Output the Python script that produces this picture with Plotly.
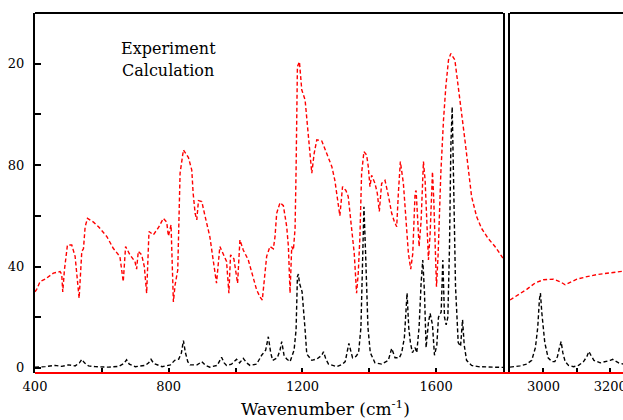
import plotly.graph_objects as go

# ---- data ----
exp_wn = [400, 405, 415, 430, 455, 475, 480, 483, 488, 497, 510, 520, 532, 540, 545, 550, 557, 575, 590, 615,
          634, 654, 664, 671, 684, 699, 704, 709, 719, 727, 734, 741, 754, 770, 784, 794, 799, 807, 814, 819,
          827, 831, 834, 844, 859, 869, 873, 879, 884, 889, 899, 909, 923, 933, 943, 953, 963, 973, 980, 985,
          995, 1000, 1006, 1013, 1023, 1038, 1053, 1063, 1073, 1080, 1088, 1093, 1103, 1113, 1118, 1123, 1133,
          1143, 1153, 1158, 1163, 1168, 1173, 1178, 1181, 1185, 1191, 1198, 1208, 1213, 1221, 1228, 1235, 1243,
          1258, 1273, 1288, 1297, 1307, 1312, 1320, 1330, 1337, 1347, 1355, 1362, 1367, 1372, 1377, 1384, 1392,
          1397, 1402, 1407, 1417, 1424, 1430, 1437, 1447, 1457, 1467, 1475, 1482, 1487, 1493, 1502, 1509, 1517,
          1524, 1530, 1537, 1540, 1545, 1549, 1555, 1562, 1567, 1572, 1577, 1582, 1589, 1593, 1597, 1601, 1606,
          1614, 1622, 1629, 1637, 1644, 1656, 1666, 1676, 1686, 1696, 1706, 1721, 1736, 1756, 1776, 1800]
exp_val = [30, 31, 34, 35, 37.4, 38, 37, 30, 38.6, 48.5, 48.5, 44, 27.5, 46, 47, 55.7, 59, 57.5, 55.7, 51.8,
           47.2, 43.9, 34, 47.9, 44.6, 42, 39, 46, 44.6, 40, 29.5, 53.8, 52.5, 55.5, 59, 57.5, 52, 56.4, 26, 32.7,
           38.6, 55.7, 76.8, 86, 83, 78, 69, 61, 58.4, 66, 65.6, 59.7, 51.8, 42.6, 33.4, 47.9, 45, 42, 29.5, 44.6,
           43, 39, 33.4, 50.5, 46.5, 42.6, 36, 30.8, 28, 26.8, 37.4, 44, 47.9, 47, 51.8, 61, 65.2,
           64, 55.7, 47.9, 29.5, 47.9, 46.5, 55, 78, 118.8, 120.8, 109.7, 105.7, 98, 87.3, 76.8, 84.5, 90,
           89.5, 84.7, 79.4, 74, 65, 60, 71.5, 70, 67.6, 55.7, 45.2, 29.5, 37.4, 51.8, 76.8, 85.3, 84,
           79.4, 71.5, 76, 72.8, 68.9, 61.7, 72.8, 74, 68, 61, 57.7, 55.7, 69, 81.4, 72.8, 58.4, 45.2,
           39, 45, 69, 70, 58, 47.9, 58, 81.4, 74, 55.7, 42.6, 53, 77.4, 66, 48, 32, 45,
           76.8, 97.8, 111, 121.5, 124, 121.5, 112, 100.5, 90, 78, 67.6, 59.7, 55, 51, 47.9, 43.3]

calc_wn = [400, 430, 460, 480, 500, 520, 533, 540, 548, 560, 580, 620, 650, 666, 674, 682, 700, 730, 740, 747,
           755, 780, 805, 818, 830, 838, 844, 850, 857, 864, 885, 899, 910, 923, 945, 958, 966, 973, 988, 1003,
           1012, 1023, 1033, 1043, 1063, 1078, 1090, 1098, 1105, 1111, 1125, 1133, 1138, 1145, 1153, 1163, 1175,
           1181, 1185, 1188, 1191, 1199, 1208, 1213, 1228, 1243, 1258, 1263, 1270, 1278, 1303, 1320, 1328, 1335,
           1339, 1344, 1350, 1360, 1368, 1375, 1379, 1384, 1389, 1396, 1403, 1417, 1437, 1457, 1467, 1477, 1490,
           1497, 1505, 1509, 1513, 1518, 1523, 1529, 1537, 1542, 1549, 1555, 1560, 1565, 1570, 1577, 1582, 1589,
           1595, 1602, 1607, 1615, 1620, 1625, 1630, 1635, 1640, 1644, 1648, 1653, 1658, 1666, 1673, 1679, 1684,
           1691, 1706, 1726, 1766, 1800]
calc_val = [0.3, 0.5, 1, 0.6, 1.2, 0.8, 2, 3.4, 2, 0.8, 0.5, 0.3, 0.6, 1.8, 3.2, 1.5, 0.5, 1, 2, 3.4,
            1.8, 0.5, 1.2, 3, 3.5, 6, 10.8, 6, 2.5, 1.2, 1.2, 2.5, 1, 0.3, 1, 4.2, 2, 1, 1.5, 3.4,
            2, 3.8, 2, 1, 1.5, 5, 7, 12.3, 6, 3, 4, 7, 10.4, 5, 3.5, 2.5, 7,
            15, 36, 37, 33.5, 30, 15, 5.5, 3, 3.5, 5, 6.4, 3.5, 1.5, 0.5, 1.5, 2.5, 7,
            9.7, 7, 4, 4.5, 6, 16, 38.7, 63.6, 45, 16, 6, 2, 1.5, 3, 7.7, 4, 4,
            6, 12, 21.5, 29.5, 16, 10, 6, 8, 6, 16, 33.4, 42.6, 30, 8, 18, 21.5, 17,
            5, 9, 20, 22, 42.6, 20, 17, 20, 48, 87.3, 103, 68, 32, 10, 8.5, 19, 9,
            3, 1, 0.5, 0.3, 0.2]

exp_r_wn = [2900, 2925, 2950, 2975, 3000, 3030, 3050, 3065, 3080, 3100, 3130, 3160, 3200, 3240]
exp_r_val = [26.8, 28.8, 31, 33.5, 34.8, 35, 34, 32.8, 33.8, 35, 36, 36.8, 37.5, 38.2]

calc_r_wn = [2900, 2930, 2950, 2965, 2976, 2983, 2988, 2991, 2995, 3004, 3014, 3025, 3034, 3042, 3048, 3053,
             3058, 3065, 3075, 3090, 3105, 3120, 3130, 3136, 3142, 3151, 3170, 3190, 3200, 3207, 3215, 3225, 3240]
calc_r_val = [0.3, 0.8, 1.5, 3, 8, 16, 27, 29.5, 22, 10, 4, 2.5, 2.5, 4.5, 8, 10.4,
              6, 2.5, 1, 0.5, 1, 2.5, 4.5, 6.5, 5, 3, 2, 2.5, 3, 3.4, 2.8, 2, 1.5]

y_tickvals = [0, 20, 40, 60, 80, 100, 120, 140]
y_ticktext = ["0", "", "40", "", "80", "", "20", ""]
x1_tickvals = [400, 600, 800, 1000, 1200, 1400, 1600, 1800]
x1_ticktext = ["400", "", "800", "", "1200", "", "1600", ""]
x2_tickvals = [3000, 3100, 3200]
x2_ticktext = ["3000", "", "3200"]

legend_labels = ["Experiment", "Calculation"]
x_title = "Wavenumber (cm<sup>-1</sup>)"

# ---- layout geometry ----
W, H = 623, 420
L1, R1 = 35 / W, 503 / W
L2 = 510 / W
FONT = "DejaVu Serif"

fig = go.Figure()
dash_red = "4px,2.5px"
dash_blk = "4px,2.5px"
fig.add_trace(go.Scatter(x=exp_wn, y=exp_val, mode="lines", name=legend_labels[0],
                         line=dict(color="#ff0000", width=1.4, dash=dash_red), xaxis="x", yaxis="y"))
fig.add_trace(go.Scatter(x=calc_wn, y=calc_val, mode="lines", name=legend_labels[1],
                         line=dict(color="#000000", width=1.4, dash=dash_blk), xaxis="x", yaxis="y"))
fig.add_trace(go.Scatter(x=exp_r_wn, y=exp_r_val, mode="lines", showlegend=False,
                         line=dict(color="#ff0000", width=1.4, dash=dash_red), xaxis="x2", yaxis="y2"))
fig.add_trace(go.Scatter(x=calc_r_wn, y=calc_r_val, mode="lines", showlegend=False,
                         line=dict(color="#000000", width=1.4, dash=dash_blk), xaxis="x2", yaxis="y2"))

tickfont = dict(family=FONT, size=13, color="black")
yr = [-2, 140]
fig.update_layout(
    width=W, height=H,
    margin=dict(l=0, r=0, t=13, b=47, autoexpand=False),
    paper_bgcolor="white", plot_bgcolor="white",
    showlegend=False,
    xaxis=dict(domain=[L1, R1], range=[400, 1800], showline=False, showgrid=False, zeroline=False,
               automargin=False,
               ticks="inside", ticklen=5, tickwidth=1.5, tickcolor="black",
               tickvals=x1_tickvals, ticktext=x1_ticktext, tickfont=tickfont, ticklabelstandoff=4),
    yaxis=dict(domain=[0, 1], range=yr, showline=True, linecolor="black", linewidth=2, mirror=True,
               showgrid=False, zeroline=False, automargin=False,
               ticks="inside", ticklen=6, tickwidth=1.5, tickcolor="black",
               tickvals=y_tickvals, ticktext=y_ticktext, tickfont=tickfont, ticklabelstandoff=6),
    xaxis2=dict(domain=[L2, 1], range=[2900, 3238], anchor="y2", showline=False, showgrid=False,
                zeroline=False, automargin=False, ticks="inside", ticklen=5, tickwidth=1.5, tickcolor="black",
                tickvals=x2_tickvals, ticktext=x2_ticktext, tickfont=tickfont, ticklabelstandoff=4,
                ticklabeloverflow="allow"),
    yaxis2=dict(domain=[0, 1], range=yr, anchor="x2", showline=True, linecolor="black", linewidth=2,
                showgrid=False, zeroline=False, automargin=False, ticks="", showticklabels=False),
)

# frame: top black lines and red bottom line
fig.add_shape(type="line", xref="paper", yref="paper", x0=L1, x1=R1, y0=1, y1=1,
              line=dict(color="black", width=2))
fig.add_shape(type="line", xref="paper", yref="paper", x0=L2, x1=1, y0=1, y1=1,
              line=dict(color="black", width=2))
fig.add_shape(type="line", xref="paper", yref="paper", x0=L1, x1=1, y0=0, y1=0,
              line=dict(color="#ff0000", width=2.2))

# legend labels as text
fig.add_annotation(text=legend_labels[0], xref="paper", yref="paper", x=119 / W, y=(373 - 49) / 360,
                   xanchor="left", yanchor="middle", showarrow=False,
                   font=dict(family=FONT, size=16, color="black"))
fig.add_annotation(text=legend_labels[1], xref="paper", yref="paper", x=120 / W, y=(373 - 70) / 360,
                   xanchor="left", yanchor="middle", showarrow=False,
                   font=dict(family=FONT, size=16, color="black"))
# axis title
fig.add_annotation(text=x_title, xref="paper", yref="paper", x=325 / W, y=(373 - 408) / 360,
                   xanchor="center", yanchor="middle", showarrow=False,
                   font=dict(family=FONT, size=17, color="black"))

fig.write_html("out.html", config={"displayModeBar": False},
               post_script="document.body.style.margin='0px';document.body.style.overflow='hidden';")
